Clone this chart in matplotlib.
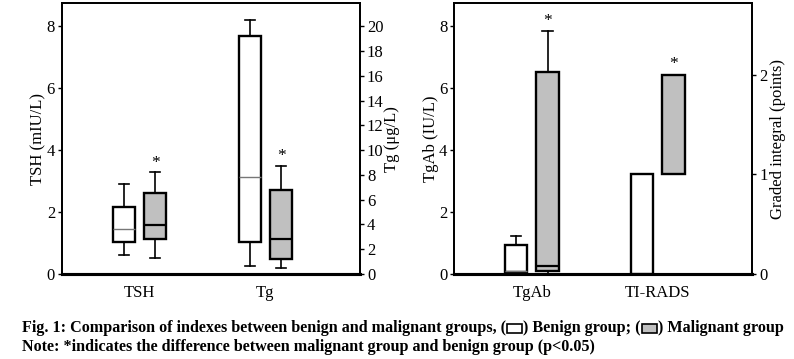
import matplotlib.pyplot as plt
from matplotlib.patches import Rectangle

plt.rcParams["font.family"] = "Liberation Serif"
plt.rcParams["font.size"] = 12

# -------- DATA --------
groups = ["Benign", "Malignant"]
colors = ["white", "#c0c0c0"]

# TSH (mIU/L): whislo, q1, med, q3, whishi
tsh = [[0.60, 1.02, 1.44, 2.17, 2.90],
       [0.51, 1.14, 1.58, 2.61, 3.28]]
# Tg (ug/L)
tg = [[0.63, 2.55, 7.85, 19.25, 20.5],
      [0.47, 1.22, 2.80, 6.76, 8.74]]
# TgAb (IU/L)
tgab = [[0.08, 0.08, 0.09, 0.94, 1.23],
        [0.00, 0.09, 0.26, 6.52, 7.85]]
# TI-RADS graded integral (points): low, high
tirads = [[0, 1],
          [1, 2]]

star_tsh = [False, True]
star_tg = [False, True]
star_tgab = [False, True]
star_tirads = [False, True]

panel1_labels = ["TSH", "Tg"]
panel2_labels = ["TgAb", "TI-RADS"]

# -------- LAYOUT --------
W, H = 794, 359
fig = plt.figure(figsize=(W / 100, H / 100), dpi=100)

OFF = 0.125
BW = 0.178
XLIM = (0.385, 2.75)


def stats_of(vals):
    lo, q1, med, q3, hi = vals
    return dict(whislo=lo, q1=q1, med=med, q3=q3, whishi=hi, fliers=[])


def draw_boxes(ax, data, pos, stars, pad):
    for i, vals in enumerate(data):
        x = pos + (-OFF if i == 0 else OFF)
        med_color = "#777777" if i == 0 else "black"
        med_lw = 1.0 if i == 0 else 1.6
        ax.bxp([stats_of(vals)], positions=[x], widths=BW, patch_artist=True,
               showfliers=False,
               boxprops=dict(facecolor=colors[i], edgecolor="black", linewidth=1.7),
               medianprops=dict(color=med_color, linewidth=med_lw),
               whiskerprops=dict(color="black", linewidth=1.2),
               capprops=dict(color="black", linewidth=1.2),
               capwidths=BW * 0.45, manage_ticks=False)
        if stars[i]:
            ax.text(x, vals[4] + pad, "*", ha="center", va="bottom", fontsize=12.5)


def style_axes(ax, ax2, labels):
    ax.set_xlim(*XLIM)
    ax.set_xticks([1, 2])
    ax.set_xticklabels(labels)
    ax.tick_params(axis="x", length=0, pad=8, labelsize=12)
    ax.tick_params(axis="y", direction="out", length=3, width=1, labelsize=12, pad=2)
    ax2.tick_params(axis="y", direction="out", length=3, width=1, labelsize=12, pad=2)
    for a in (ax, ax2):
        for s in a.spines.values():
            s.set_linewidth(1.3)
        a.spines["bottom"].set_linewidth(2.2)


def frac(x0, y0, x1, y1):
    return [x0 / W, 1 - y1 / H, (x1 - x0) / W, (y1 - y0) / H]


# -------- PANEL 1: TSH / Tg --------
ax1 = fig.add_axes(frac(62, 3.3, 360, 274))
ax1b = ax1.twinx()
ax1.set_ylim(0, 8.74)
ax1b.set_ylim(0, 8.74 * 2.5)
ax1.set_yticks([0, 2, 4, 6, 8])
ax1b.set_yticks(range(0, 21, 2))
draw_boxes(ax1, tsh, 1, star_tsh, 0.05)
draw_boxes(ax1b, tg, 2, star_tg, 0.15)
ax1.set_ylabel("TSH (mIU/L)", fontsize=12, labelpad=0)
ax1b.set_ylabel("Tg (\u03bcg/L)", fontsize=12, rotation=90, labelpad=0)
style_axes(ax1, ax1b, panel1_labels)

# -------- PANEL 2: TgAb / TI-RADS --------
ax2 = fig.add_axes(frac(454.3, 3.3, 752.3, 274))
ax2b = ax2.twinx()
ax2.set_ylim(0, 8.74)
ax2b.set_ylim(0, 2.72)
ax2.set_yticks([0, 2, 4, 6, 8])
ax2b.set_yticks([0, 1, 2])
draw_boxes(ax2, tgab, 1, star_tgab, 0.05)
for i, (lo, hi) in enumerate(tirads):
    x = 2 + (-OFF if i == 0 else OFF)
    ax2b.bar(x, hi - lo, bottom=lo, width=BW, color=colors[i],
             edgecolor="black", linewidth=1.7)
    if star_tirads[i]:
        ax2b.text(x, hi + 0.03, "*", ha="center", va="bottom", fontsize=12.5)
ax2.set_ylabel("TgAb (IU/L)", fontsize=12, labelpad=0)
ax2b.set_ylabel("Graded integral (points)", fontsize=12, rotation=90, labelpad=2)
style_axes(ax2, ax2b, panel2_labels)

# -------- CAPTION --------
cap_kw = dict(fontsize=11.6, fontweight="bold", va="center", ha="left")
renderer = fig.canvas.get_renderer()
parts = ["Fig. 1: Comparison of indexes between benign and malignant groups, (",
         ") Benign group; (", ") Malignant group"]
x = 22
y1 = 1 - 328.3 / H
for k, part in enumerate(parts):
    t = fig.text(x / W, y1, part, **cap_kw)
    bb = t.get_window_extent(renderer)
    x = x + bb.width
    if k < 2:
        fig.patches.append(Rectangle(((x + 1) / W, y1 - 4.5 / H), 15 / W, 9 / H,
                                     transform=fig.transFigure, facecolor=colors[k],
                                     edgecolor="black", linewidth=1.2))
        x += 17
fig.text(22 / W, 1 - 346.7 / H,
         "Note: *indicates the difference between malignant group and benign group (p<0.05)",
         **cap_kw)

fig.savefig("out.png", dpi=100)
